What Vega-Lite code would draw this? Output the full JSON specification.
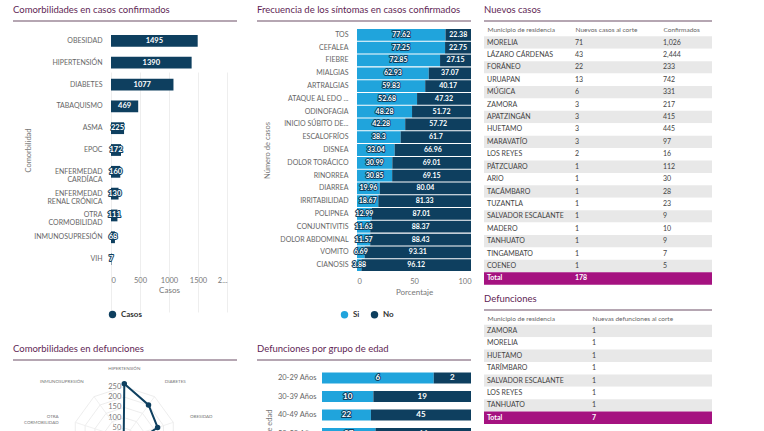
{
 "$schema": "https://vega.github.io/schema/vega-lite/v6.json",
 "background": "white",
 "padding": {"left": 12, "top": 4, "right": 0, "bottom": 0},
 "config": {
  "font": "Lato",
  "view": {"stroke": null},
  "title": {"anchor": "start", "frame": "group", "font": "Lato", "fontSize": 9.5, "fontWeight": "normal", "color": "#5f1f55", "offset": 6, "baseline": "alphabetic"},
  "axis": {"labelFont": "Lato", "titleFont": "Lato", "titleFontWeight": "normal"},
  "legend": {"labelFont": "Lato"}
 },
 "resolve": {"scale": {"color": "independent"}, "legend": {"color": "independent"}},
 "hconcat": [
  {"resolve": {"scale": {"color": "independent"}, "legend": {"color": "independent"}},
   "hconcat": [
   {"resolve": {"scale": {"color": "independent"}, "legend": {"color": "independent"}},
    "vconcat": [
    {
     "width": 224, "height": 300,
     "title": "Comorbilidades en casos confirmados",
     "layer": [
      {"data": {"values": [{}]}, "mark": {"type": "rule", "color": "#9d8898", "strokeWidth": 1.5},
       "encoding": {"y": {"datum": 1, "type": "quantitative", "scale": {"domain": [0, 1]}, "axis": null}}},
      {"data": {"values": [
        {"c": "OBESIDAD", "n": 1495},
        {"c": "HIPERTENSIÓN", "n": 1390},
        {"c": "DIABETES", "n": 1077},
        {"c": "TABAQUISMO", "n": 469},
        {"c": "ASMA", "n": 225},
        {"c": "EPOC", "n": 172},
        {"c": "ENFERMEDAD CARDÍACA", "n": 160},
        {"c": "ENFERMEDAD RENAL CRÓNICA", "n": 130},
        {"c": "OTRA CORMOBILIDAD", "n": 111},
        {"c": "INMUNOSUPRESIÓN", "n": 68},
        {"c": "VIH", "n": 7}
       ]},
       "transform": [{"calculate": "datum.n/2", "as": "mid"}],
       "encoding": {"y": {"field": "c", "type": "nominal", "sort": null,
         "scale": {"range": [9, 249], "paddingInner": 0.46, "paddingOuter": 0.23},
         "axis": {"orient": "left", "offset": -98, "domain": false, "ticks": false, "labelPadding": 9, "labelFontSize": 7, "labelColor": "#666", "labelLineHeight": 8,
           "labelExpr": "datum.value == 'ENFERMEDAD CARDÍACA' ? ['ENFERMEDAD', 'CARDÍACA'] : datum.value == 'ENFERMEDAD RENAL CRÓNICA' ? ['ENFERMEDAD', 'RENAL CRÓNICA'] : datum.value == 'OTRA CORMOBILIDAD' ? ['OTRA', 'CORMOBILIDAD'] : datum.value",
           "title": "Comorbilidad", "titleFontSize": 7.5, "titleColor": "#777", "titlePadding": 1}}},
       "layer": [
        {"mark": {"type": "bar"},
         "encoding": {
          "x": {"field": "n", "type": "quantitative", "scale": {"domain": [0, 2000], "range": [98, 214], "nice": false},
            "axis": {"orient": "bottom", "offset": -51, "values": [0, 500, 1000, 1500, 2000], "format": "d", "labelExpr": "datum.value == 2000 ? '2...' : datum.label", "grid": true, "gridColor": "#eeeeee", "domain": false, "ticks": false, "labelPadding": 6, "labelFontSize": 7.5, "labelColor": "#777", "labelFlush": true, "title": "Casos", "titleFontSize": 8, "titleColor": "#777", "titlePadding": 3}},
          "color": {"datum": "Casos", "type": "nominal", "scale": {"domain": ["Casos"], "range": ["#0e3f5f"]},
            "legend": {"orient": "none", "legendX": 95, "legendY": 289, "direction": "horizontal", "title": null, "symbolType": "circle", "symbolSize": 55, "labelFontSize": 8, "labelFontWeight": "bold", "labelColor": "#333"}}
         }},
        {"mark": {"type": "text", "color": "#0e3f5f", "stroke": "#0e3f5f", "strokeWidth": 2, "strokeJoin": "round", "fontWeight": "bold", "fontSize": 7.5},
         "encoding": {"x": {"field": "mid", "type": "quantitative"}, "text": {"field": "n", "type": "nominal"}}},
        {"mark": {"type": "text", "color": "white", "fontWeight": "bold", "fontSize": 7.5},
         "encoding": {"x": {"field": "mid", "type": "quantitative"}, "text": {"field": "n", "type": "nominal"}}}
       ]}
     ],
     "resolve": {"scale": {"x": "independent", "y": "independent"}}
    },
    {
     "width": 224, "height": 72,
     "title": "Comorbilidades en defunciones",
     "layer": [
      {"data": {"values": [{}]}, "mark": {"type": "rule", "color": "#9d8898", "strokeWidth": 1.5},
       "encoding": {"y": {"datum": 1, "type": "quantitative", "scale": {"domain": [0, 1]}, "axis": null}}},
      {"layer": [
        {"data": {"values": [
          {"i": 0, "r": [50, 100, 150, 200, 250]}, {"i": 1, "r": [50, 100, 150, 200, 250]},
          {"i": 2, "r": [50, 100, 150, 200, 250]}, {"i": 3, "r": [50, 100, 150, 200, 250]},
          {"i": 4, "r": [50, 100, 150, 200, 250]}, {"i": 5, "r": [50, 100, 150, 200, 250]},
          {"i": 6, "r": [50, 100, 150, 200, 250]}, {"i": 7, "r": [50, 100, 150, 200, 250]},
          {"i": 8, "r": [50, 100, 150, 200, 250]}, {"i": 9, "r": [50, 100, 150, 200, 250]}
         ]},
         "transform": [{"flatten": ["r"]}, {"calculate": "datum.r*sin(datum.i*PI/5)", "as": "x"}, {"calculate": "datum.r*cos(datum.i*PI/5)", "as": "y"}],
         "layer": [
          {"mark": {"type": "line", "interpolate": "linear-closed", "color": "#e8e8e8", "strokeWidth": 0.8, "clip": true},
           "encoding": {
            "x": {"field": "x", "type": "quantitative", "scale": {"domain": [-300, 300], "range": [49.5, 173.1], "nice": false, "zero": false}, "axis": null},
            "y": {"field": "y", "type": "quantitative", "scale": {"domain": [-300, 300], "range": [140.1, 16.5], "nice": false, "zero": false}, "axis": null},
            "detail": {"field": "r", "type": "nominal"}, "order": {"field": "i", "type": "quantitative"}}},
          {"transform": [{"filter": "datum.i == 0"}],
           "mark": {"type": "text", "align": "right", "baseline": "middle", "dx": -3, "fontSize": 7.5, "color": "#777", "clip": true},
           "encoding": {"x": {"field": "x", "type": "quantitative"}, "y": {"field": "y", "type": "quantitative"}, "text": {"field": "r", "type": "nominal"}}}
         ]},
        {"data": {"values": [
          {"c": "HIPERTENSIÓN", "i": 0, "v": 265},
          {"c": "DIABETES", "i": 1, "v": 200},
          {"c": "OBESIDAD", "i": 2, "v": 170},
          {"c": "ENFERMEDAD RENAL CRÓNICA", "i": 3, "v": 60},
          {"c": "TABAQUISMO", "i": 4, "v": 30},
          {"c": "EPOC", "i": 5, "v": 35},
          {"c": "ENFERMEDAD CARDÍACA", "i": 6, "v": 40},
          {"c": "ASMA", "i": 7, "v": 10},
          {"c": "OTRA CORMOBILIDAD", "i": 8, "v": 25},
          {"c": "INMUNOSUPRESIÓN", "i": 9, "v": 5}
         ]},
         "transform": [
          {"calculate": "datum.v*sin(datum.i*PI/5)", "as": "x"}, {"calculate": "datum.v*cos(datum.i*PI/5)", "as": "y"},
          {"calculate": "250*sin(datum.i*PI/5)", "as": "sx"}, {"calculate": "250*cos(datum.i*PI/5)", "as": "sy"},
          {"calculate": "0", "as": "o"},
          {"calculate": "335*sin(datum.i*PI/5)", "as": "lx"}, {"calculate": "335*cos(datum.i*PI/5)", "as": "ly"},
          {"calculate": "datum.c == 'OTRA CORMOBILIDAD' ? ['OTRA', 'CORMOBILIDAD'] : datum.c == 'ENFERMEDAD RENAL CRÓNICA' ? ['ENFERMEDAD', 'RENAL CRÓNICA'] : datum.c == 'ENFERMEDAD CARDÍACA' ? ['ENFERMEDAD', 'CARDÍACA'] : datum.c", "as": "lab"}
         ],
         "layer": [
          {"mark": {"type": "rule", "color": "#ececec", "strokeWidth": 0.8, "clip": true},
           "encoding": {"x": {"field": "o", "type": "quantitative"}, "y": {"field": "o", "type": "quantitative"}, "x2": {"field": "sx"}, "y2": {"field": "sy"}}},
          {"mark": {"type": "line", "interpolate": "linear-closed", "color": "#0e3f5f", "strokeWidth": 2, "clip": true},
           "encoding": {"x": {"field": "x", "type": "quantitative"}, "y": {"field": "y", "type": "quantitative"}, "order": {"field": "i", "type": "quantitative"}}},
          {"mark": {"type": "point", "filled": true, "color": "#0e3f5f", "opacity": 1, "size": 30, "clip": true},
           "encoding": {"x": {"field": "x", "type": "quantitative"}, "y": {"field": "y", "type": "quantitative"}}},
          {"transform": [{"filter": "datum.i == 0"}],
           "mark": {"type": "text", "align": "center", "baseline": "middle", "fontSize": 4.5, "color": "#777", "clip": true},
           "encoding": {"x": {"field": "lx", "type": "quantitative"}, "y": {"field": "ly", "type": "quantitative"}, "text": {"field": "lab", "type": "nominal"}}},
          {"transform": [{"filter": "datum.i > 0 && datum.i < 5"}],
           "mark": {"type": "text", "align": "left", "baseline": "middle", "fontSize": 4.5, "color": "#777", "clip": true},
           "encoding": {"x": {"field": "lx", "type": "quantitative"}, "y": {"field": "ly", "type": "quantitative"}, "text": {"field": "lab", "type": "nominal"}}},
          {"transform": [{"filter": "datum.i > 5"}],
           "mark": {"type": "text", "align": "right", "baseline": "middle", "fontSize": 4.5, "color": "#777", "clip": true},
           "encoding": {"x": {"field": "lx", "type": "quantitative"}, "y": {"field": "ly", "type": "quantitative"}, "text": {"field": "lab", "type": "nominal"}}}
         ]}
      ]}
     ],
     "resolve": {"scale": {"x": "independent", "y": "independent"}}
    }
   ], "spacing": 39, "bounds": "flush"},
   {"resolve": {"scale": {"color": "independent"}, "legend": {"color": "independent"}},
    "vconcat": [
    {
     "width": 214, "height": 300,
     "title": "Frecuencia de los síntomas en casos confirmados",
     "layer": [
      {"data": {"values": [{}]}, "mark": {"type": "rule", "color": "#9d8898", "strokeWidth": 1.5},
       "encoding": {"y": {"datum": 1, "type": "quantitative", "scale": {"domain": [0, 1]}, "axis": null}}},
      {"data": {"values": [
        {"s": "TOS", "t": "Si", "p": 77.62}, {"s": "TOS", "t": "No", "p": 22.38},
        {"s": "CEFALEA", "t": "Si", "p": 77.25}, {"s": "CEFALEA", "t": "No", "p": 22.75},
        {"s": "FIEBRE", "t": "Si", "p": 72.85}, {"s": "FIEBRE", "t": "No", "p": 27.15},
        {"s": "MIALGIAS", "t": "Si", "p": 62.93}, {"s": "MIALGIAS", "t": "No", "p": 37.07},
        {"s": "ARTRALGIAS", "t": "Si", "p": 59.83}, {"s": "ARTRALGIAS", "t": "No", "p": 40.17},
        {"s": "ATAQUE AL EDO ...", "t": "Si", "p": 52.68}, {"s": "ATAQUE AL EDO ...", "t": "No", "p": 47.32},
        {"s": "ODINOFAGIA", "t": "Si", "p": 48.28}, {"s": "ODINOFAGIA", "t": "No", "p": 51.72},
        {"s": "INICIO SÚBITO DE...", "t": "Si", "p": 42.28}, {"s": "INICIO SÚBITO DE...", "t": "No", "p": 57.72},
        {"s": "ESCALOFRÍOS", "t": "Si", "p": 38.3}, {"s": "ESCALOFRÍOS", "t": "No", "p": 61.7},
        {"s": "DISNEA", "t": "Si", "p": 33.04}, {"s": "DISNEA", "t": "No", "p": 66.96},
        {"s": "DOLOR TORÁCICO", "t": "Si", "p": 30.99}, {"s": "DOLOR TORÁCICO", "t": "No", "p": 69.01},
        {"s": "RINORREA", "t": "Si", "p": 30.85}, {"s": "RINORREA", "t": "No", "p": 69.15},
        {"s": "DIARREA", "t": "Si", "p": 19.96}, {"s": "DIARREA", "t": "No", "p": 80.04},
        {"s": "IRRITABILIDAD", "t": "Si", "p": 18.67}, {"s": "IRRITABILIDAD", "t": "No", "p": 81.33},
        {"s": "POLIPNEA", "t": "Si", "p": 12.99}, {"s": "POLIPNEA", "t": "No", "p": 87.01},
        {"s": "CONJUNTIVITIS", "t": "Si", "p": 11.63}, {"s": "CONJUNTIVITIS", "t": "No", "p": 88.37},
        {"s": "DOLOR ABDOMINAL", "t": "Si", "p": 11.57}, {"s": "DOLOR ABDOMINAL", "t": "No", "p": 88.43},
        {"s": "VOMITO", "t": "Si", "p": 6.69}, {"s": "VOMITO", "t": "No", "p": 93.31},
        {"s": "CIANOSIS", "t": "Si", "p": 3.88}, {"s": "CIANOSIS", "t": "No", "p": 96.12}
       ]},
       "transform": [
        {"stack": "p", "groupby": ["s"], "sort": [{"field": "t", "order": "descending"}], "as": ["p0", "p1"]},
        {"calculate": "(datum.p0 + datum.p1)/2", "as": "mid"}
       ],
       "encoding": {"y": {"field": "s", "type": "nominal", "sort": null,
         "scale": {"range": [7.5, 250.5], "paddingInner": 0.08, "paddingOuter": 0.04},
         "axis": {"orient": "left", "offset": -100, "domain": false, "ticks": false, "labelPadding": 9, "labelFontSize": 7, "labelColor": "#666",
           "title": "Número de casos", "titleFontSize": 7.5, "titleColor": "#777", "titlePadding": 8}}},
       "layer": [
        {"mark": {"type": "bar"},
         "encoding": {
          "x": {"field": "p0", "type": "quantitative", "scale": {"domain": [0, 100], "range": [100, 214], "nice": false},
            "axis": {"orient": "bottom", "offset": -49.5, "values": [0, 50, 100], "grid": false, "domain": false, "ticks": false, "labelPadding": 6, "labelFontSize": 7.5, "labelColor": "#777", "labelFlush": true, "title": "Porcentaje", "titleFontSize": 8, "titleColor": "#777", "titlePadding": 3}},
          "x2": {"field": "p1"},
          "color": {"field": "t", "type": "nominal", "scale": {"domain": ["Si", "No"], "range": ["#20a4dc", "#0e3f5f"]},
            "legend": {"orient": "none", "legendX": 83, "legendY": 289, "direction": "horizontal", "title": null, "symbolType": "circle", "symbolSize": 55, "labelFontSize": 8, "labelFontWeight": "bold", "labelColor": "#333", "columnPadding": 10}}
         }},
        {"mark": {"type": "text", "color": "#0e3f5f", "stroke": "#0e3f5f", "strokeWidth": 2, "strokeJoin": "round", "fontWeight": "bold", "fontSize": 7},
         "encoding": {"x": {"field": "mid", "type": "quantitative"}, "text": {"field": "p", "type": "nominal"}}},
        {"mark": {"type": "text", "color": "white", "fontWeight": "bold", "fontSize": 7},
         "encoding": {"x": {"field": "mid", "type": "quantitative"}, "text": {"field": "p", "type": "nominal"}}}
       ]}
     ],
     "resolve": {"scale": {"x": "independent", "y": "independent"}}
    },
    {
     "width": 214, "height": 72,
     "title": "Defunciones por grupo de edad",
     "layer": [
      {"data": {"values": [{}]}, "mark": {"type": "rule", "color": "#9d8898", "strokeWidth": 1.5},
       "encoding": {"y": {"datum": 1, "type": "quantitative", "scale": {"domain": [0, 1]}, "axis": null}}},
      {"data": {"values": [
        {"g": "20-29 Años", "t": "Si", "n": 6}, {"g": "20-29 Años", "t": "No", "n": 2},
        {"g": "30-39 Años", "t": "Si", "n": 10}, {"g": "30-39 Años", "t": "No", "n": 19},
        {"g": "40-49 Años", "t": "Si", "n": 22}, {"g": "40-49 Años", "t": "No", "n": 45},
        {"g": "50-59 Años", "t": "Si", "n": 37}, {"g": "50-59 Años", "t": "No", "n": 66},
        {"g": "60-69 Años", "t": "Si", "n": 45}, {"g": "60-69 Años", "t": "No", "n": 70},
        {"g": "70-79 Años", "t": "Si", "n": 35}, {"g": "70-79 Años", "t": "No", "n": 55},
        {"g": "80+ Años", "t": "Si", "n": 20}, {"g": "80+ Años", "t": "No", "n": 30}
       ]},
       "transform": [
        {"stack": "n", "groupby": ["g"], "sort": [{"field": "t", "order": "descending"}], "offset": "normalize", "as": ["n0", "n1"]},
        {"calculate": "(datum.n0 + datum.n1)/2", "as": "mid"}
       ],
       "encoding": {"y": {"field": "g", "type": "nominal", "sort": null,
         "scale": {"range": [8.75, 138.25], "paddingInner": 0.4, "paddingOuter": 0.2},
         "axis": {"orient": "left", "offset": -65, "domain": false, "ticks": false, "labelPadding": 6, "labelFontSize": 7.5, "labelColor": "#666",
           "title": "Grupo de edad", "titleFontSize": 7.5, "titleColor": "#777", "titlePadding": 4}}},
       "layer": [
        {"mark": {"type": "bar", "clip": true},
         "encoding": {
          "x": {"field": "n0", "type": "quantitative", "scale": {"domain": [0, 1], "range": [65, 214], "nice": false}, "axis": null},
          "x2": {"field": "n1"},
          "color": {"field": "t", "type": "nominal", "scale": {"domain": ["Si", "No"], "range": ["#20a4dc", "#0e3f5f"]}, "legend": null}
         }},
        {"mark": {"type": "text", "color": "#0e3f5f", "stroke": "#0e3f5f", "strokeWidth": 2, "strokeJoin": "round", "fontWeight": "bold", "fontSize": 8, "clip": true},
         "encoding": {"x": {"field": "mid", "type": "quantitative"}, "text": {"field": "n", "type": "nominal"}}},
        {"mark": {"type": "text", "color": "white", "fontWeight": "bold", "fontSize": 8, "clip": true},
         "encoding": {"x": {"field": "mid", "type": "quantitative"}, "text": {"field": "n", "type": "nominal"}}}
       ]}
     ],
     "resolve": {"scale": {"x": "independent", "y": "independent"}}
    }
   ], "spacing": 39, "bounds": "flush"}
  ], "spacing": 18},
  {"resolve": {"scale": {"color": "independent"}, "legend": {"color": "independent"}},
   "vconcat": [
   {
    "width": 228, "height": 264,
    "title": "Nuevos casos",
    "layer": [
     {"data": {"values": [{}]}, "mark": {"type": "rule", "color": "#9d8898", "strokeWidth": 1.5},
      "encoding": {"y": {"datum": 1, "type": "quantitative", "scale": {"domain": [0, 1]}, "axis": null}}},
     {"data": {"values": [
       {"m": "MORELIA", "n": 71, "c": 1026},
       {"m": "LÁZARO CÁRDENAS", "n": 43, "c": 2444},
       {"m": "FORÁNEO", "n": 22, "c": 233},
       {"m": "URUAPAN", "n": 13, "c": 742},
       {"m": "MÚGICA", "n": 6, "c": 331},
       {"m": "ZAMORA", "n": 3, "c": 217},
       {"m": "APATZINGÁN", "n": 3, "c": 415},
       {"m": "HUETAMO", "n": 3, "c": 445},
       {"m": "MARAVATÍO", "n": 3, "c": 97},
       {"m": "LOS REYES", "n": 2, "c": 16},
       {"m": "PÁTZCUARO", "n": 1, "c": 112},
       {"m": "ARIO", "n": 1, "c": 30},
       {"m": "TACÁMBARO", "n": 1, "c": 28},
       {"m": "TUZANTLA", "n": 1, "c": 23},
       {"m": "SALVADOR ESCALANTE", "n": 1, "c": 9},
       {"m": "MADERO", "n": 1, "c": 10},
       {"m": "TANHUATO", "n": 1, "c": 9},
       {"m": "TINGAMBATO", "n": 1, "c": 7},
       {"m": "COENEO", "n": 1, "c": 5},
       {"m": "Total", "n": 178}
      ]},
      "transform": [{"window": [{"op": "row_number", "as": "rn"}]}],
      "encoding": {"y": {"field": "m", "type": "nominal", "sort": null, "scale": {"range": [15.3, 263.7], "paddingInner": 0, "paddingOuter": 0}, "axis": null}},
      "layer": [
       {"mark": {"type": "rect"},
        "encoding": {"color": {"condition": [{"test": "datum.m == 'Total'", "value": "#a51280"}, {"test": "datum.rn % 2 == 1", "value": "#e8e8e8"}], "value": "#ffffff"}}},
       {"layer": [
        {"transform": [{"filter": "datum.m != 'Total'"}],
         "mark": {"type": "text", "align": "left", "baseline": "middle", "fontSize": 7, "color": "#444"},
         "encoding": {
          "x": {"datum": "Municipio de residencia", "type": "nominal",
            "scale": {"type": "point", "domain": ["Municipio de residencia", "Nuevos casos al corte", "Confirmados"], "range": [3, 179], "padding": 0},
            "axis": {"orient": "top", "offset": -15, "domain": false, "ticks": false, "labelAlign": "left", "labelAngle": 0, "labelPadding": 4, "labelFontSize": 6.5, "labelColor": "#666", "title": null, "grid": false}},
          "text": {"field": "m", "type": "nominal"}}},
        {"transform": [{"filter": "datum.m != 'Total'"}],
         "mark": {"type": "text", "align": "left", "baseline": "middle", "fontSize": 7, "color": "#444"},
         "encoding": {"x": {"datum": "Nuevos casos al corte", "type": "nominal"}, "text": {"field": "n", "type": "nominal"}}},
        {"transform": [{"filter": "datum.m != 'Total'"}],
         "mark": {"type": "text", "align": "left", "baseline": "middle", "fontSize": 7, "color": "#444"},
         "encoding": {"x": {"datum": "Confirmados", "type": "nominal"}, "text": {"field": "c", "type": "quantitative", "format": ","}}},
        {"transform": [{"filter": "datum.m == 'Total'"}],
         "mark": {"type": "text", "align": "left", "baseline": "middle", "fontSize": 7, "fontWeight": "bold", "color": "white"},
         "encoding": {"x": {"datum": "Municipio de residencia", "type": "nominal"}, "text": {"field": "m", "type": "nominal"}}},
        {"transform": [{"filter": "datum.m == 'Total'"}],
         "mark": {"type": "text", "align": "left", "baseline": "middle", "fontSize": 7, "fontWeight": "bold", "color": "white"},
         "encoding": {"x": {"datum": "Nuevos casos al corte", "type": "nominal"}, "text": {"field": "n", "type": "nominal"}}}
       ]}
      ],
      "resolve": {"scale": {"x": "independent"}}}
    ],
    "resolve": {"scale": {"x": "independent", "y": "independent"}}
   },
   {
    "width": 228, "height": 115,
    "title": "Defunciones",
    "layer": [
     {"data": {"values": [{}]}, "mark": {"type": "rule", "color": "#9d8898", "strokeWidth": 1.5},
      "encoding": {"y": {"datum": 1, "type": "quantitative", "scale": {"domain": [0, 1]}, "axis": null}}},
     {"data": {"values": [
       {"m": "ZAMORA", "d": 1},
       {"m": "MORELIA", "d": 1},
       {"m": "HUETAMO", "d": 1},
       {"m": "TARÍMBARO", "d": 1},
       {"m": "SALVADOR ESCALANTE", "d": 1},
       {"m": "LOS REYES", "d": 1},
       {"m": "TANHUATO", "d": 1},
       {"m": "Total", "d": 7}
      ]},
      "transform": [{"window": [{"op": "row_number", "as": "rn"}]}],
      "encoding": {"y": {"field": "m", "type": "nominal", "sort": null, "scale": {"range": [14.8, 114], "paddingInner": 0, "paddingOuter": 0}, "axis": null}},
      "layer": [
       {"mark": {"type": "rect"},
        "encoding": {"color": {"condition": [{"test": "datum.m == 'Total'", "value": "#a51280"}, {"test": "datum.rn % 2 == 1", "value": "#e8e8e8"}], "value": "#ffffff"}}},
       {"layer": [
        {"transform": [{"filter": "datum.m != 'Total'"}],
         "mark": {"type": "text", "align": "left", "baseline": "middle", "fontSize": 7, "color": "#444"},
         "encoding": {
          "x": {"datum": "Municipio de residencia", "type": "nominal",
            "scale": {"type": "point", "domain": ["Municipio de residencia", "Nuevas defunciones al corte"], "range": [3, 108], "padding": 0},
            "axis": {"orient": "top", "offset": -15, "domain": false, "ticks": false, "labelAlign": "left", "labelAngle": 0, "labelPadding": 4, "labelFontSize": 6.5, "labelColor": "#666", "title": null, "grid": false}},
          "text": {"field": "m", "type": "nominal"}}},
        {"transform": [{"filter": "datum.m != 'Total'"}],
         "mark": {"type": "text", "align": "left", "baseline": "middle", "fontSize": 7, "color": "#444"},
         "encoding": {"x": {"datum": "Nuevas defunciones al corte", "type": "nominal"}, "text": {"field": "d", "type": "nominal"}}},
        {"transform": [{"filter": "datum.m == 'Total'"}],
         "mark": {"type": "text", "align": "left", "baseline": "middle", "fontSize": 7, "fontWeight": "bold", "color": "white"},
         "encoding": {"x": {"datum": "Municipio de residencia", "type": "nominal"}, "text": {"field": "m", "type": "nominal"}}},
        {"transform": [{"filter": "datum.m == 'Total'"}],
         "mark": {"type": "text", "align": "left", "baseline": "middle", "fontSize": 7, "fontWeight": "bold", "color": "white"},
         "encoding": {"x": {"datum": "Nuevas defunciones al corte", "type": "nominal"}, "text": {"field": "d", "type": "nominal"}}}
       ]}
      ],
      "resolve": {"scale": {"x": "independent"}}}
    ],
    "resolve": {"scale": {"x": "independent", "y": "independent"}}
   }
  ], "spacing": 25, "bounds": "flush"}
 ],
 "spacing": 11
}
